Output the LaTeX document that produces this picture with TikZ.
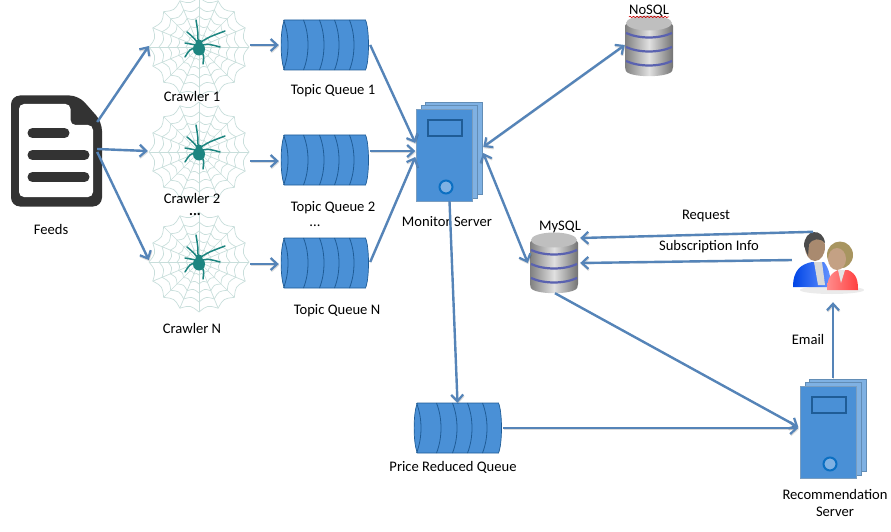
\documentclass[tikz,border=0pt]{standalone}
\usepackage{fontspec}
\setmainfont{Carlito}
\usetikzlibrary{arrows.meta,decorations.pathmorphing}
\definecolor{arrowblue}{HTML}{5584B8}
\definecolor{boxblue}{HTML}{4A90D6}
\definecolor{boxline}{HTML}{1F5C96}
\definecolor{pageblue}{HTML}{7FB1E3}
\definecolor{ringblue}{HTML}{0B6FC2}
\definecolor{webline}{HTML}{C8DEDB}
\definecolor{spider}{HTML}{1C8580}
\definecolor{docdark}{HTML}{333333}
\definecolor{bandblue}{HTML}{5A62B0}
\definecolor{manface}{HTML}{A98A6F}
\definecolor{womanface}{HTML}{C4A184}
\definecolor{womanhair}{HTML}{A89560}
\tikzset{
	arr/.style={draw=arrowblue,line width=2.4pt,-{Straight Barb[length=6.5pt,width=12pt,line width=2.2pt]},
		preaction={draw=black,opacity=.14,transform canvas={xshift=.5pt,yshift=-1.2pt}}},
	arrboth/.style={arr,{Straight Barb[length=6.5pt,width=12pt,line width=2.2pt]}-{Straight Barb[length=6.5pt,width=12pt,line width=2.2pt]}},
	lbl/.style={inner sep=0pt,font=\fontsize{14.6}{17}\selectfont,align=center},
	docbox/.style={minimum width=91pt,minimum height=111pt,inner sep=0pt},
	webbox/.style={minimum width=100pt,minimum height=100pt,inner sep=0pt},
	queuebox/.style={minimum width=87pt,minimum height=50pt,inner sep=0pt},
	serverbox/.style={minimum width=56pt,minimum height=92pt,inner sep=0pt},
	dbbox/.style={minimum width=48pt,minimum height=60pt,inner sep=0pt},
	usersbox/.style={minimum width=66pt,minimum height=58pt,inner sep=0pt},
	pics/docicon/.style={code={
		\fill[docdark,rounded corners=9pt] (-45.5,-55.5) -- (22,-55.5) -- (45.5,-29) -- (45.5,55.5) -- (-45.5,55.5) -- cycle;
		\fill[white,rounded corners=5pt] (-37.5,-47) -- (14,-47) -- (14,-26) -- (36.5,-26) -- (36.5,46) -- (-37.5,46) -- cycle;
		\foreach \ly/\lx in {-18/8,4/28,26/28}
			\draw[docdark,line width=10pt,line cap=round] (-24,\ly) -- (\lx,\ly);
	}},
	pics/webicon/.style={code={
		\foreach \a in {0,22.5,...,337.5} {
			\draw[webline,line width=.7pt] (0,0) -- (\a:50);
			\foreach \r in {13,22,31,40,50}
				\draw[webline,line width=.7pt] (\a:\r) .. controls ({\a+11.25}:{.88*\r}) .. ({\a+22.5}:\r);
		}
		\fill[spider] (0,2) ellipse [x radius=6pt,y radius=6.5pt];
		\fill[spider] (0,-4) circle (3.5pt);
		\draw[spider,line width=1.5pt,line cap=round]
			(-1,-6) .. controls (-1,-15) .. (-3,-27)
			(2,-5) .. controls (10,-10) .. (26,-16)
			(3,-2) .. controls (10,-3) .. (21,0)
			(2,4) .. controls (5,8) .. (4,17)
			(-3,1) .. controls (-9,2) .. (-14,10)
			(-3,-2) .. controls (-8,-3) .. (-14,-4)
			(-2,-5) .. controls (-6,-10) .. (-12,-15);
	}},
	pics/queueicon/.style={code={
		\draw[boxline,fill=boxblue,line width=.7pt] (-41,-25) .. controls (-45.5,-16) and (-45.5,16) .. (-41,25) -- (40,25) .. controls (44,16) and (44,-16) .. (40,-25) -- cycle;
		\foreach \qx in {-42,-22,-6,9,24}
			\draw[boxline,line width=.8pt] (\qx,-25) .. controls ({\qx+6},-10) and ({\qx+6},10) .. (\qx,25);
	}},
	pics/servericon/.style={code={
		\draw[boxline!70,fill=pageblue,line width=.5pt] (-19,-53) rectangle (37.5,39);
		\draw[boxline!70,fill=pageblue,line width=.5pt] (-23,-50) rectangle (33,43);
		\draw[boxline!60,fill=boxblue,line width=.5pt] (-28,-46) rectangle (28,46);
		\draw[boxline,line width=1.4pt] (-16.5,-35) rectangle (17.5,-19);
		\draw[ringblue,fill=pageblue,line width=2pt] (1.5,32) circle (6.5pt);
	}},
	pics/dbicon/.style={code={
		\path[left color=black!50,right color=black!55,middle color=black!12,rounded corners=2pt]
			(-24,-22) -- (-24,23) .. controls (-20,32) and (20,32) .. (24,23) -- (24,-22) -- cycle;
		\fill[black!25] (0,-23) ellipse [x radius=23pt,y radius=7.5pt];
		\foreach \by in {-10,4,18}
			\draw[bandblue,line width=2.2pt] (-23,{\by-3}) .. controls (-10,{\by+3}) and (10,{\by+3}) .. (23,{\by-3});
	}},
	pics/usersicon/.style={code={
		\fill[black!8] (6,23) ellipse [x radius=32pt,y radius=4pt];
		\path[left color=blue!70!cyan!90!black,right color=cyan!30!blue!60!white] (-33,20) .. controls (-33,2) and (-24,-3) .. (-14,-5) -- (-2,-5) .. controls (4,3) and (5,12) .. (4,20) -- cycle;
		\fill[white!85!black] (-12,-5) -- (-4,-5) -- (-1,18) -- (-8,18) -- cycle;
		\fill[manface] (-11,-20) ellipse [x radius=10pt,y radius=14pt];
		\fill[black!70] (-22,-21) .. controls (-22,-38) and (-3,-40) .. (-1,-24) .. controls (-6,-30) and (-14,-28) .. (-17,-23) -- (-18,-11) -- cycle;
		\path[left color=red!45!white,right color=red!75!white] (1,23) .. controls (1,8) and (8,5) .. (12,3) -- (22,3) .. controls (31,7) and (32,14) .. (32,23) -- cycle;
		\fill[white!90!black] (12,3) -- (19,3) -- (15,16) -- cycle;
		\fill[womanhair] (14,-12) ellipse [x radius=13pt,y radius=13.5pt];
		\fill[womanface] (11,-8) ellipse [x radius=9pt,y radius=11pt];
	}},
}
\begin{document}
\begin{tikzpicture}[x=1pt,y=-1pt]
	\useasboundingbox (0,0) rectangle (891,532);

	\node[docbox] (feeds) at (56.5,151) {};
	\node[webbox] (crawlerA) at (199,47) {};
	\node[webbox] (crawlerB) at (199,152) {};
	\node[webbox] (crawlerN) at (199,262) {};
	\node[queuebox] (queueA) at (325.5,45) {};
	\node[queuebox] (queueB) at (325.5,160) {};
	\node[queuebox] (queueN) at (325.5,263) {};
	\node[queuebox] (queueP) at (458.5,428) {};
	\node[serverbox] (monitor) at (444.5,155) {};
	\node[serverbox] (recserver) at (828.5,432) {};
	\node[dbbox] (mysql) at (554,263) {};
	\node[dbbox] (nosql) at (649,46) {};
	\node[usersbox] (users) at (826,267) {};

	\pic at (feeds) {docicon};
	\foreach \n in {crawlerA,crawlerB,crawlerN}
		\pic at (\n) {webicon};
	\foreach \n in {queueA,queueB,queueN,queueP}
		\pic at (\n) {queueicon};
	\foreach \n in {monitor,recserver}
		\pic at (\n) {servericon};
	\foreach \n in {mysql,nosql}
		\pic at (\n) {dbicon};
	\pic at (users) {usersicon};

	\node[lbl] (lfeeds) at (51,229) {Feeds};
	\node[lbl] (lcrawlerA) at (192,96) {Crawler 1};
	\node[lbl] (lcrawlerB) at (192,198) {Crawler 2};
	\node[lbl,font=\bfseries\fontsize{14.6}{17}\selectfont] (ldotsA) at (195,215) {...};
	\node[lbl] (lcrawlerN) at (192,328) {Crawler N};
	\node[lbl] (lqueueA) at (333,91) {Topic Queue 1};
	\node[lbl] (lqueueB) at (333,208) {Topic Queue 2};
	\node[lbl] (ldotsB) at (315,226) {...};
	\node[lbl] (lqueueN) at (337,311) {Topic Queue N};
	\node[lbl] (lmonitor) at (447,222) {Monitor Server};
	\node[lbl] (lmysql) at (560,227) {MySQL};
	\node[lbl] (lnosql) at (649,11) {NoSQL};
	\node[lbl] (lrequest) at (706,216) {Request};
	\node[lbl] (lsubinfo) at (709,247) {Subscription Info};
	\node[lbl] (lemail) at (808,339) {Email};
	\node[lbl] (lqueueP) at (453,467) {Price Reduced Queue};
	\node[lbl] (lrecserver) at (835,503) {Recommendation\\Server};
	\draw[red!80!black,line width=.6pt,decorate,decoration={snake,amplitude=.7pt,segment length=3.5pt}] (lnosql.south west) -- (lnosql.south east);

	\draw[arr] ([shift={(-5,-29)}]feeds.east) -- ([shift={(0,-1)}]crawlerA.west);
	\draw[arr] ([shift={(-5,-2)}]feeds.east) -- ([shift={(-1,-1)}]crawlerB.west);
	\draw[arr] ([shift={(-5,1)}]feeds.east) -- ([shift={(0,-2)}]crawlerN.west);

	\draw[arr] ([shift={(1,-2)}]crawlerA.east) -- ([xshift=-3pt]queueA.west);
	\draw[arr] ([shift={(1,9)}]crawlerB.east) -- ([shift={(-3,1)}]queueB.west);
	\draw[arr] ([shift={(1,2)}]crawlerN.east) -- ([shift={(-3,1)}]queueN.west);

	\draw[arr] ([xshift=1pt]queueA.east) -- ([shift={(-1,-12)}]monitor.west);
	\draw[arr] ([shift={(1,-9)}]queueB.east) -- ([shift={(-1,-4)}]monitor.west);
	\draw[arr] ([shift={(1,-1)}]queueN.east) -- ([shift={(-1,2)}]monitor.west);

	\draw[arrboth] ([shift={(0,-1)}]nosql.west) -- ([shift={(10.5,-8)}]monitor.east);
	\draw[arrboth] ([shift={(10.5,-2)}]monitor.east) -- ([xshift=-2pt]mysql.west);
	\draw[arr] ([xshift=5pt]monitor.south) -- ([xshift=-1pt]queueP.north);

	\draw[arr] ([shift={(-13,-6)}]users.north) -- ([shift={(2,-25)}]mysql.east);
	\draw[arr] ([shift={(-1,-7)}]users.west) -- ([shift={(2,0)}]mysql.east);
	\draw[arr] ([xshift=1pt]mysql.south) -- ([shift={(-2,-5)}]recserver.west);
	\draw[arr] ([xshift=1pt]queueP.east) -- ([shift={(-2,-4)}]recserver.west);
	\draw[arr] ([shift={(4.5,-8)}]recserver.north) -- ([shift={(7,6)}]users.south);
\end{tikzpicture}
\end{document}
